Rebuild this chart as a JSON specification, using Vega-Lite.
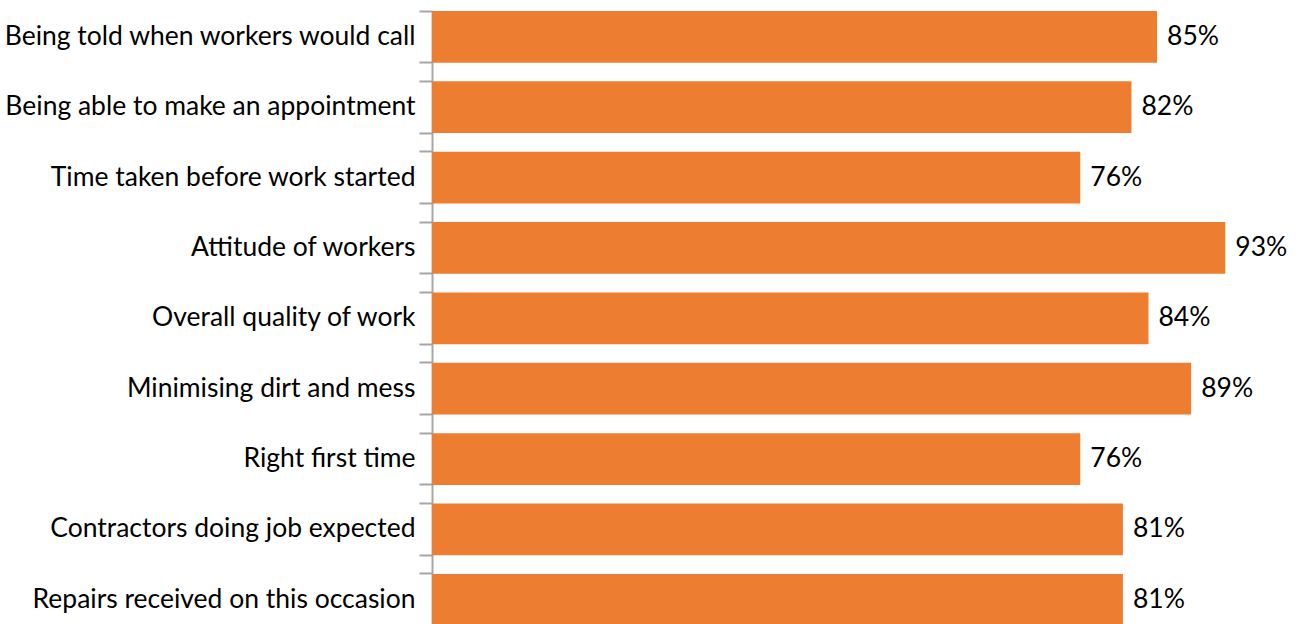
{
  "$schema": "https://vega.github.io/schema/vega-lite/v6.json",
  "autosize": "none",
  "padding": {"left": 432, "top": 11, "right": 19, "bottom": 0},
  "width": 853,
  "height": 614.7,
  "background": "white",
  "data": {
    "values": [
      {"item": "Being told when workers would call", "value": 0.85},
      {"item": "Being able to make an appointment", "value": 0.82},
      {"item": "Time taken before work started", "value": 0.76},
      {"item": "Attitude of workers", "value": 0.93},
      {"item": "Overall quality of work", "value": 0.84},
      {"item": "Minimising dirt and mess", "value": 0.89},
      {"item": "Right first time", "value": 0.76},
      {"item": "Contractors doing job expected", "value": 0.81},
      {"item": "Repairs received on this occasion", "value": 0.81}
    ]
  },
  "layer": [
    {
      "mark": {"type": "bar", "color": "#ED7D31"},
      "encoding": {
        "x": {"field": "value", "type": "quantitative", "scale": {"domain": [0, 1], "nice": false}, "axis": null},
        "y": {
          "field": "item", "type": "nominal", "sort": null,
          "scale": {"paddingInner": 0.265, "paddingOuter": 0},
          "axis": {
            "orient": "left", "title": null, "bandPosition": 0,
            "domainColor": "#A6A6A6", "domainWidth": 2,
            "tickColor": "#A6A6A6", "tickWidth": 2, "tickSize": 13,
            "labelFont": "Lato", "labelFontSize": 26.5, "labelColor": "#000000",
            "labelPadding": 4, "labelLimit": 0, "labelBaseline": "middle",
            "labelOffset": 0
          }
        }
      }
    },
    {
      "mark": {"type": "text", "align": "left", "baseline": "middle", "dx": 10, "font": "Lato", "fontSize": 26.5, "color": "#000000"},
      "encoding": {
        "x": {"field": "value", "type": "quantitative", "scale": {"domain": [0, 1], "nice": false}, "axis": null},
        "y": {
          "field": "item", "type": "nominal", "sort": null,
          "axis": {
            "orient": "left", "title": null, "bandPosition": 1,
            "labels": false, "domain": false,
            "tickColor": "#A6A6A6", "tickWidth": 2, "tickSize": 13
          }
        },
        "text": {"field": "value", "type": "quantitative", "format": ".0%"}
      }
    }
  ],
  "resolve": {"axis": {"y": "independent"}},
  "config": {"view": {"stroke": null}}
}
